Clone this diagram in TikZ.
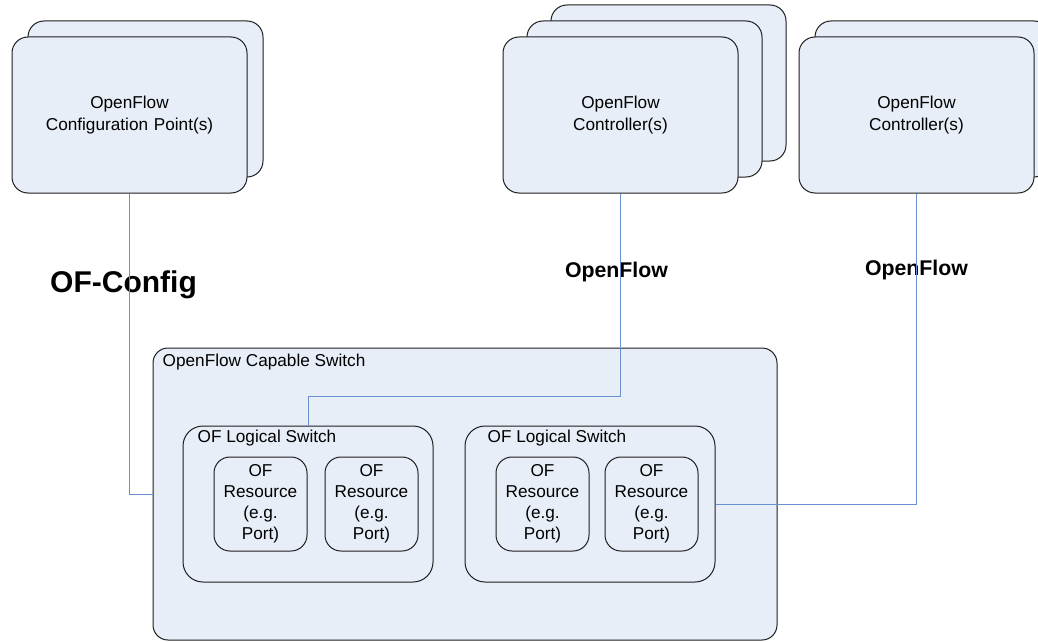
\documentclass[tikz,border=0pt]{standalone}
\usepackage{fontspec}
\setmainfont{Liberation Sans}
\usetikzlibrary{positioning}
\definecolor{boxfill}{RGB}{232,238,247}
\definecolor{boxline}{RGB}{30,30,30}
\definecolor{linkblue}{RGB}{105,145,210}

\begin{document}
\begin{tikzpicture}[x=1pt,y=-1pt,node distance=17pt]
	\tikzstyle{unit}=[draw=boxline, fill=boxfill, rectangle, rounded corners=16pt, line width=1pt, minimum width=235pt, minimum height=156pt, text width=220pt, align=center, font=\fontsize{17.2}{21.5}\selectfont]
	\tikzstyle{sw}=[draw=boxline, fill=boxfill, rectangle, rounded corners=15pt, line width=1pt, minimum width=624pt, minimum height=292pt]
	\tikzstyle{lsw}=[draw=boxline, fill=boxfill, rectangle, rounded corners=20pt, line width=1pt, minimum width=250pt, minimum height=156pt]
	\tikzstyle{res}=[draw=boxline, fill=boxfill, rectangle, rounded corners=16pt, line width=1pt, minimum width=93pt, minimum height=94pt, inner sep=0pt, align=center, font=\fontsize{17.2}{21}\selectfont]
	\tikzstyle{title}=[inner sep=0pt, anchor=west, font=\fontsize{17.2}{21}\selectfont]
	\tikzstyle{proto}=[inner sep=0pt, font=\bfseries\fontsize{21.3}{25}\selectfont]
	\tikzstyle{link}=[draw=linkblue, line width=1pt]

	\useasboundingbox (0,0) rectangle (1038,642);

	% configuration point
	\node[unit] (cfgback) at (145.5,99) {};
	\node[unit] (cfg) at (129.5,115) {OpenFlow\\Configuration Point(s)};

	% controllers
	\node[unit] (ctrlAback) at (668.5,83) {};
	\node[unit] (ctrlAmid) at (644.5,99) {};
	\node[unit] (ctrlA) at (620.5,115) {OpenFlow\\Controller(s)};

	\node[unit] (ctrlBback) at (932.5,99) {};
	\node[unit] (ctrlB) at (916.5,115) {OpenFlow\\Controller(s)};

	% protocol labels
	\node[proto, font=\bfseries\fontsize{30}{36}\selectfont] (ofconfig) at (123.5,285) {OF-Config};
	\node[proto] (ofA) at (616.5,272) {OpenFlow};
	\node[proto] (ofB) at (916.5,270) {OpenFlow};

	% capable switch
	\node[sw] (sw) at (465,494) {};
	\node[title] (swtitle) at ([shift={(10,15)}]sw.north west) {OpenFlow Capable Switch};

	\node[lsw] (lsA) at (308,504) {};
	\node[lsw] (lsB) [right=31pt of lsA] {};
	\node[title] (lsAtitle) at ([shift={(15,13)}]lsA.north west) {OF Logical Switch};
	\node[title] (lsBtitle) at ([shift={(23,13)}]lsB.north west) {OF Logical Switch};

	\node[res] (resA1) [right=31pt of lsA.west] {OF\\Resource\\(e.g.\\Port)};
	\node[res] (resA2) [right=of resA1] {OF\\Resource\\(e.g.\\Port)};
	\node[res] (resB1) [right=31pt of lsB.west] {OF\\Resource\\(e.g.\\Port)};
	\node[res] (resB2) [right=15pt of resB1] {OF\\Resource\\(e.g.\\Port)};

	% links
	\draw[link] (cfg.south) |- (sw.west);

	\coordinate[shift={(0,-29)}] (n) at (lsA.north);
	\draw[link] (ctrlA.south) |- (n) -- (lsA.north);

	\draw[link] (ctrlB.south) |- (lsB.east);
\end{tikzpicture}
\end{document}
